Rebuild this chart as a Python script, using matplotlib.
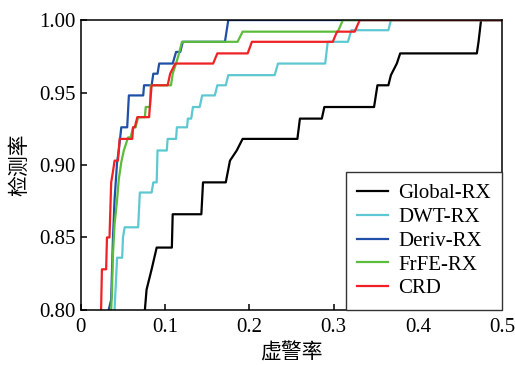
"""ROC curves of five anomaly detectors (检测率 vs 虚警率)."""

import matplotlib
matplotlib.use("Agg")
import matplotlib.pyplot as plt

# false-alarm / detection rate pairs
global_fpr = [0.076, 0.078, 0.084, 0.090, 0.108, 0.109, 0.143, 0.145, 0.172, 0.177, 0.185,
              0.192, 0.257, 0.260, 0.286, 0.289, 0.348, 0.352, 0.365, 0.368, 0.375, 0.379,
              0.470, 0.472, 0.475, 0.50]
global_pd = [0.800, 0.814, 0.828, 0.843, 0.843, 0.866, 0.866, 0.888, 0.888, 0.903, 0.910,
             0.918, 0.918, 0.932, 0.932, 0.940, 0.940, 0.955, 0.955, 0.962, 0.970, 0.977,
             0.977, 0.985, 1.000, 1.000]

dwt_fpr = [0.040, 0.043, 0.049, 0.050, 0.052, 0.068, 0.070, 0.084, 0.086, 0.090, 0.091,
           0.102, 0.103, 0.113, 0.114, 0.126, 0.127, 0.131, 0.133, 0.141, 0.144, 0.159,
           0.162, 0.172, 0.175, 0.230, 0.234, 0.290, 0.293, 0.317, 0.321, 0.365, 0.368, 0.50]
dwt_pd = [0.800, 0.836, 0.836, 0.850, 0.857, 0.857, 0.881, 0.881, 0.888, 0.888, 0.910,
          0.910, 0.918, 0.918, 0.926, 0.926, 0.932, 0.932, 0.940, 0.940, 0.948, 0.948,
          0.955, 0.955, 0.962, 0.962, 0.970, 0.970, 0.985, 0.985, 0.993, 0.993, 1.000, 1.000]

deriv_fpr = [0.033, 0.036, 0.038, 0.040, 0.043, 0.045, 0.048, 0.055, 0.057, 0.074, 0.075,
             0.084, 0.086, 0.091, 0.093, 0.109, 0.113, 0.118, 0.121, 0.171, 0.175, 0.50]
deriv_pd = [0.800, 0.807, 0.848, 0.876, 0.902, 0.910, 0.926, 0.926, 0.948, 0.948, 0.955,
            0.955, 0.963, 0.963, 0.970, 0.970, 0.978, 0.978, 0.985, 0.985, 1.000, 1.000]

frfe_fpr = [0.036, 0.037, 0.038, 0.040, 0.043, 0.045, 0.048, 0.051, 0.056, 0.059, 0.062,
            0.065, 0.068, 0.076, 0.077, 0.082, 0.083, 0.107, 0.109, 0.113, 0.117, 0.120,
            0.186, 0.192, 0.305, 0.311, 0.50]
frfe_pd = [0.800, 0.814, 0.837, 0.859, 0.876, 0.890, 0.902, 0.910, 0.919, 0.919, 0.926,
           0.926, 0.933, 0.933, 0.940, 0.940, 0.955, 0.955, 0.963, 0.970, 0.978, 0.985,
           0.985, 0.992, 0.992, 1.000, 1.000]

crd_fpr = [0.024, 0.025, 0.030, 0.031, 0.034, 0.036, 0.038, 0.040, 0.044, 0.046, 0.061,
           0.062, 0.064, 0.067, 0.081, 0.082, 0.084, 0.103, 0.106, 0.112, 0.157, 0.162,
           0.198, 0.203, 0.299, 0.304, 0.325, 0.331, 0.50]
crd_pd = [0.800, 0.828, 0.828, 0.850, 0.850, 0.888, 0.895, 0.903, 0.903, 0.918, 0.918,
          0.926, 0.926, 0.933, 0.933, 0.941, 0.955, 0.955, 0.963, 0.970, 0.970, 0.977,
          0.977, 0.985, 0.985, 0.992, 0.992, 1.000, 1.000]

labels = ["Global-RX", "DWT-RX", "Deriv-RX", "FrFE-RX", "CRD"]
colors = ["#000000", "#5ec8d2", "#1f4fa6", "#5cbc3c", "#ee2225"]
x_ticks = [0, 0.1, 0.2, 0.3, 0.4, 0.5]
x_ticklabels = ["0", "0.1", "0.2", "0.3", "0.4", "0.5"]
y_ticks = [0.80, 0.85, 0.90, 0.95, 1.00]

plt.rcParams["font.family"] = ["Liberation Serif", "Noto Sans CJK SC"]
plt.rcParams["font.size"] = 15

fig = plt.figure(figsize=(5.15, 3.65), dpi=100)
ax = fig.add_axes([0.157, 0.151, 0.818, 0.794])

series = [(global_fpr, global_pd), (dwt_fpr, dwt_pd), (deriv_fpr, deriv_pd),
          (frfe_fpr, frfe_pd), (crd_fpr, crd_pd)]
for (fpr, pd_), label, color in zip(series, labels, colors):
    ax.plot(fpr, pd_, color=color, lw=1.6, label=label)

ax.set_xlim(0, 0.5)
ax.set_ylim(0.80, 1.00)
ax.set_xticks(x_ticks)
ax.set_xticklabels(x_ticklabels)
ax.set_yticks(y_ticks)
ax.set_yticklabels([f"{v:.2f}" for v in y_ticks])
ax.tick_params(direction="in", length=4, width=1.1, top=False, right=False, labelsize=15)
ax.tick_params(axis="x", pad=6)
ax.tick_params(axis="y", pad=4)
for spine in ax.spines.values():
    spine.set_linewidth(1.1)

ax.set_xlabel("虚警率", family="Noto Sans CJK SC", fontsize=15, labelpad=3)
ax.set_ylabel("检测率", family="Noto Sans CJK SC", fontsize=15, labelpad=6)

leg = ax.legend(loc="lower right", borderaxespad=0, fancybox=False, framealpha=1,
                edgecolor="#333333", handlelength=1.45, handletextpad=0.5,
                labelspacing=0.2, borderpad=0.55, fontsize=15)
leg.get_frame().set_linewidth(1.0)

fig.savefig("out.png", dpi=100)
